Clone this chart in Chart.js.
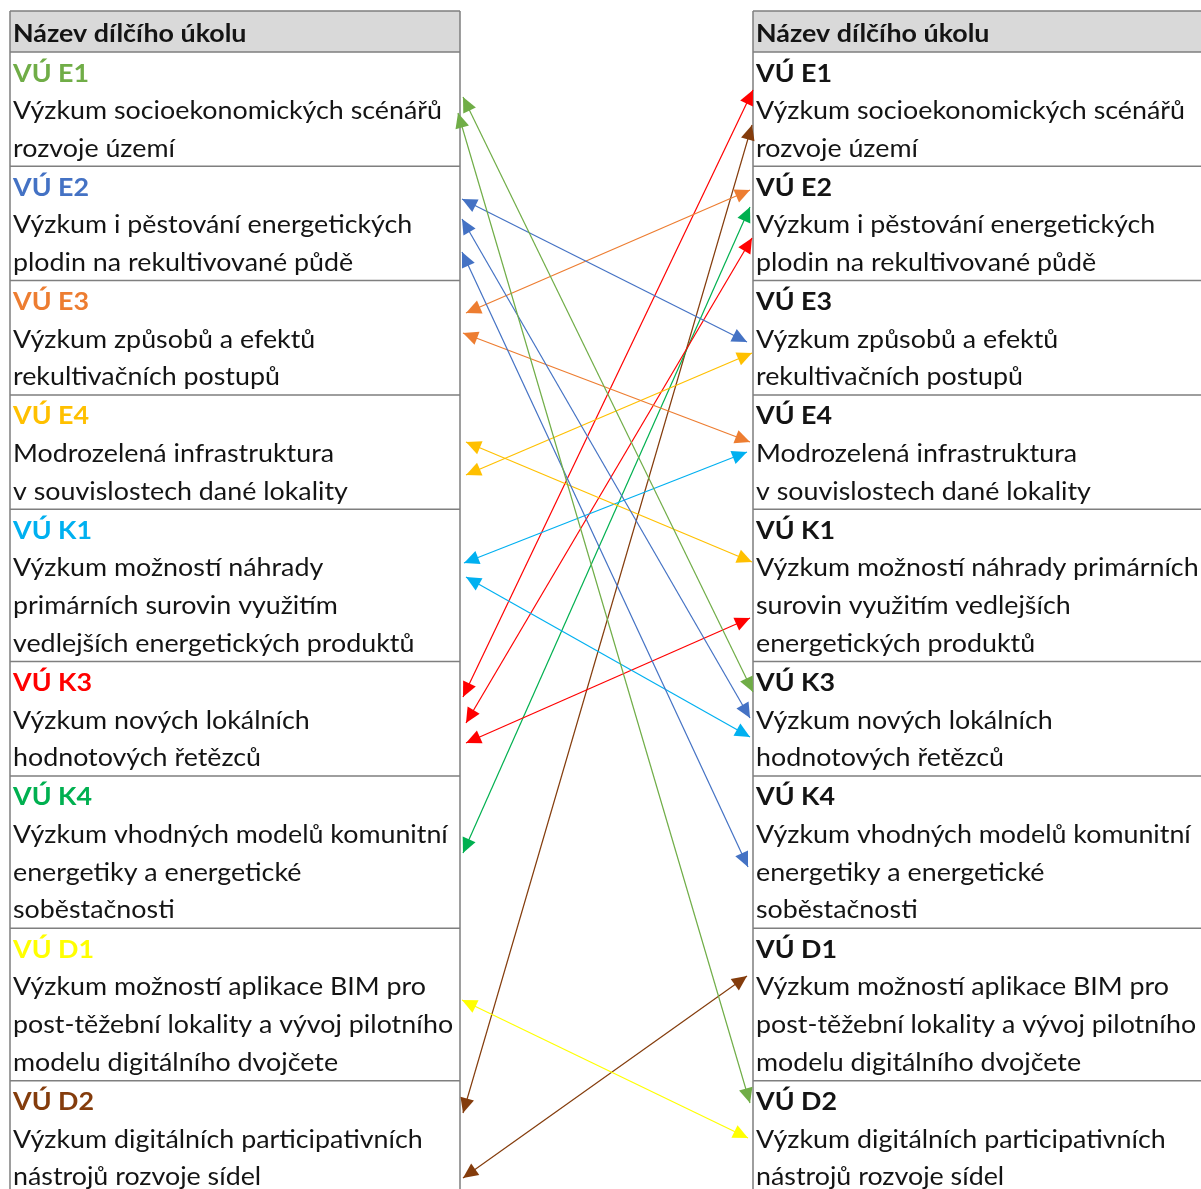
<!DOCTYPE html>
<html>
<head>
<meta charset="utf-8">
<script src="https://cdn.jsdelivr.net/npm/chart.js@4/dist/chart.umd.min.js"></script>
<style>
html,body{margin:0;padding:0;background:#fff;}
#wrap{width:1201px;height:1189px;position:relative;}
</style>
</head>
<body>
<div id="wrap"><canvas id="c"></canvas></div>
<script>
// ---------- DATA ----------
const headerText = 'Název dílčího úkolu';
const tasks = ['E1','E2','E3','E4','K1','K3','K4','D1','D2'];
const taskColors = ['#70AD47','#4472C4','#ED7D31','#FFC000','#00B0F0','#FF0000','#00B050','#FFFF00','#843C0C'];
const leftText = [
  ['Výzkum socioekonomických scénářů','rozvoje území'],
  ['Výzkum i pěstování energetických','plodin na rekultivované půdě'],
  ['Výzkum způsobů a efektů','rekultivačních postupů'],
  ['Modrozelená infrastruktura','v souvislostech dané lokality'],
  ['Výzkum možností náhrady','primárních surovin využitím','vedlejších energetických produktů'],
  ['Výzkum nových lokálních','hodnotových řetězců'],
  ['Výzkum vhodných modelů komunitní','energetiky a energetické','soběstačnosti'],
  ['Výzkum možností aplikace BIM pro','post-těžební lokality a vývoj pilotního','modelu digitálního dvojčete'],
  ['Výzkum digitálních participativních','nástrojů rozvoje sídel']
];
const rightText = [
  ['Výzkum socioekonomických scénářů','rozvoje území'],
  ['Výzkum i pěstování energetických','plodin na rekultivované půdě'],
  ['Výzkum způsobů a efektů','rekultivačních postupů'],
  ['Modrozelená infrastruktura','v souvislostech dané lokality'],
  ['Výzkum možností náhrady primárních','surovin využitím vedlejších','energetických produktů'],
  ['Výzkum nových lokálních','hodnotových řetězců'],
  ['Výzkum vhodných modelů komunitní','energetiky a energetické','soběstačnosti'],
  ['Výzkum možností aplikace BIM pro','post-těžební lokality a vývoj pilotního','modelu digitálního dvojčete'],
  ['Výzkum digitálních participativních','nástrojů rozvoje sídel']
];
// links (left task -> right task), endpoint positions read in diagram units
const linkFrom   = ['E1','E1','E2','E2','E2','E3','E3','E4','E4','K1','K1','K3','K3','K3','K4','D1','D2','D2'];
const linkTo     = ['K3','D2','E3','K3','K4','E2','E4','K1','E3','E4','K3','E1','E2','K1','E2','D2','E1','D1'];
const linkLeftX  = [463,458,462,462,462,466,463,466,466,464,466,463,466,466,463,462,463,463];
const linkLeftY  = [97,113,199,219,252,313,333,442,475,563,577,697,723,743,853,1000,1113,1178];
const linkRightX = [753,750,747,750,748,750,750,752,752,747,750,753,752,750,750,748,752,747];
const linkRightY = [692,1103,342,718,867,190,442,562,353,452,737,90,238,618,207,1138,125,976];

// ---------- LAYOUT / STYLE ----------
const W = 1201, H = 1189;
const tableTop = 11, headerH = 41, rowLineH = 38.1, textLineH = 37.6, firstBase = 29.5, textPad = 3;
const leftTable = {x0:10, x1:460};
const rightTable = {x0:753, x1:1215};
const borderColor = '#7F7F7F';
const headerFill = '#D9D9D9';
const fontFamily = 'Lato, "Open Sans", sans-serif';
const fontPx = 24.5;
const textColor = '#141414';

const colorOf = t => taskColors[tasks.indexOf(t)];

const datasets = linkFrom.map((f,i)=>({
  label: f+'-'+linkTo[i],
  data: [{x:linkLeftX[i], y:linkLeftY[i]}, {x:linkRightX[i], y:linkRightY[i]}],
  showLine: true,
  borderColor: colorOf(f),
  backgroundColor: colorOf(f),
  borderWidth: 1.2,
  pointRadius: 0,
  pointHoverRadius: 0,
  fill: false
}));

let sx = 1;
function drawTable(chart, tb, texts, colored){
  const ctx = chart.ctx, xs = chart.scales.x, ys = chart.scales.y;
  const X0 = xs.getPixelForValue(tb.x0), X1 = xs.getPixelForValue(tb.x1);
  let y = tableTop + headerH;
  const rows = [];
  texts.forEach((lines,i)=>{
    const h = rowLineH*(lines.length+1);
    rows.push({top:y, h:h, i:i});
    y += h;
  });
  ctx.save();
  const hy0 = ys.getPixelForValue(tableTop), hy1 = ys.getPixelForValue(tableTop+headerH);
  ctx.fillStyle = headerFill;
  ctx.fillRect(X0, hy0, X1-X0, hy1-hy0);
  ctx.strokeStyle = borderColor; ctx.lineWidth = 1.5;
  ctx.beginPath();
  ctx.moveTo(X0, hy0); ctx.lineTo(X1, hy0);
  ctx.moveTo(X0, hy1); ctx.lineTo(X1, hy1);
  rows.forEach(r=>{
    const yb = ys.getPixelForValue(r.top+r.h);
    if (yb < H) { ctx.moveTo(X0, yb); ctx.lineTo(X1, yb); }
  });
  ctx.moveTo(X0, hy0); ctx.lineTo(X0, H+5);
  ctx.moveTo(X1, hy0); ctx.lineTo(X1, H+5);
  ctx.stroke();
  const tx = X0 + textPad;
  function txt(s, yv, bold, color){
    ctx.save();
    ctx.font = (bold?'bold ':'') + fontPx + 'px ' + fontFamily;
    ctx.fillStyle = color;
    ctx.textBaseline = 'alphabetic';
    ctx.translate(tx, ys.getPixelForValue(yv));
    ctx.scale(sx,1);
    ctx.fillText(s, 0, 0);
    ctx.restore();
  }
  txt(headerText, tableTop+firstBase+1, true, textColor);
  rows.forEach(r=>{
    txt('VÚ '+tasks[r.i], r.top+firstBase, true, colored ? taskColors[r.i] : textColor);
    texts[r.i].forEach((s,k)=>{
      txt(s, r.top+firstBase+textLineH*(k+1), false, textColor);
    });
  });
  ctx.restore();
}

const tablePlugin = {
  id:'tables',
  beforeDatasetsDraw(chart){
    const ctx = chart.ctx;
    ctx.save();
    ctx.font = fontPx + 'px ' + fontFamily;
    sx = 429 / ctx.measureText('Výzkum socioekonomických scénářů').width;
    ctx.restore();
    drawTable(chart, leftTable, leftText, true);
    drawTable(chart, rightTable, rightText, false);
  }
};

const arrowPlugin = {
  id:'arrows',
  afterDatasetsDraw(chart){
    const ctx = chart.ctx;
    const L = 15, HW = 7;
    chart.data.datasets.forEach((ds,di)=>{
      const pts = chart.getDatasetMeta(di).data;
      const a = pts[0], b = pts[1];
      [[a,b],[b,a]].forEach(([tip,other])=>{
        const dx = tip.x-other.x, dy = tip.y-other.y;
        const len = Math.hypot(dx,dy); const ux = dx/len, uy = dy/len;
        const bx = tip.x-ux*L, by = tip.y-uy*L;
        ctx.save();
        ctx.fillStyle = ds.borderColor;
        ctx.beginPath();
        ctx.moveTo(tip.x, tip.y);
        ctx.lineTo(bx - uy*HW, by + ux*HW);
        ctx.lineTo(bx + uy*HW, by - ux*HW);
        ctx.closePath();
        ctx.fill();
        ctx.restore();
      });
    });
  }
};

new Chart(document.getElementById('c'), {
  type: 'scatter',
  data: { datasets },
  options: {
    responsive: true,
    maintainAspectRatio: false,
    animation: false,
    layout: { padding: 0 },
    plugins: { legend:{display:false}, tooltip:{enabled:false} },
    events: [],
    scales: {
      x: { type:'linear', min:0, max:W, display:false },
      y: { type:'linear', min:0, max:H, reverse:true, display:false }
    }
  },
  plugins: [tablePlugin, arrowPlugin]
});
</script>
</body>
</html>
